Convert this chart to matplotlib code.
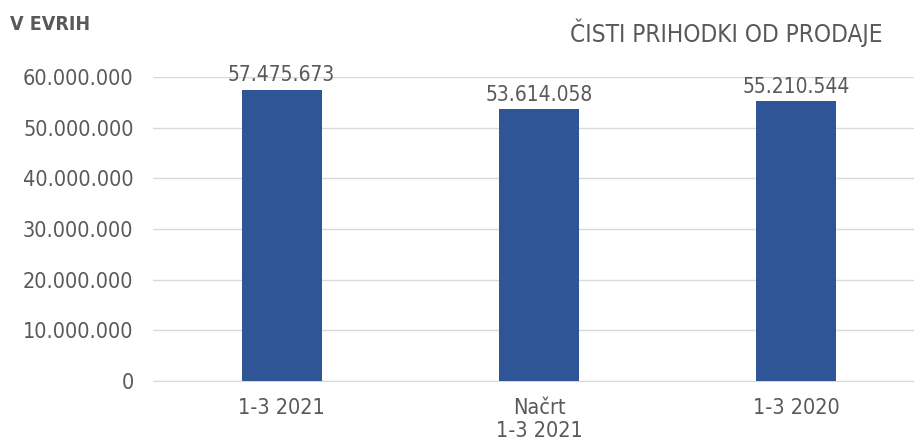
import matplotlib.pyplot as plt
from matplotlib.ticker import FuncFormatter

categories = ["1-3 2021", "Načrt\n1-3 2021", "1-3 2020"]
values = [57475673, 53614058, 55210544]
yticks = [0, 10000000, 20000000, 30000000, 40000000, 50000000, 60000000]

gray = "#595959"
blue = "#2F5597"

def dots(v, pos=None):
    return f"{int(v):,}".replace(",", ".")

plt.rcParams['font.family'] = ['DejaVu Sans']
plt.rcParams['font.stretch'] = 'condensed'

fig = plt.figure(figsize=(9.14, 4.43), dpi=100)
ax = fig.add_axes([153/914, 62/443, 772/914, 304/443])

x = range(len(categories))
ax.bar(x, values, width=0.31, color=blue, zorder=3)
for i, v in zip(x, values):
    ax.text(i, v + 900000, dots(v), ha="center", va="bottom", fontsize=15,
            color=gray, clip_on=False, zorder=4)

ax.set_xlim(-0.5, 2.5)
ax.set_ylim(0, 60000000)
ax.set_yticks(yticks)
ax.yaxis.set_major_formatter(FuncFormatter(dots))
ax.set_xticks(list(x))
ax.set_xticklabels(categories, linespacing=1.2)
ax.grid(axis="y", color="#d9d9d9", linewidth=1.0, zorder=0)
ax.tick_params(length=0, labelsize=15.5, colors=gray)
ax.tick_params(axis="y", pad=14)
ax.tick_params(axis="x", pad=12)
for s in ax.spines.values():
    s.set_visible(False)
ax.spines["bottom"].set_visible(True)
ax.spines["bottom"].set_color("#d9d9d9")

fig.text(10/914, 1 - 25/443, "V EVRIH", fontsize=14, fontweight="bold",
         color=gray, va="center", ha="left")
fig.text(883/914, 1 - 33/443, "ČISTI PRIHODKI OD PRODAJE", fontsize=17.5,
         color=gray, va="center", ha="right")

fig.savefig("out.png", dpi=100)
